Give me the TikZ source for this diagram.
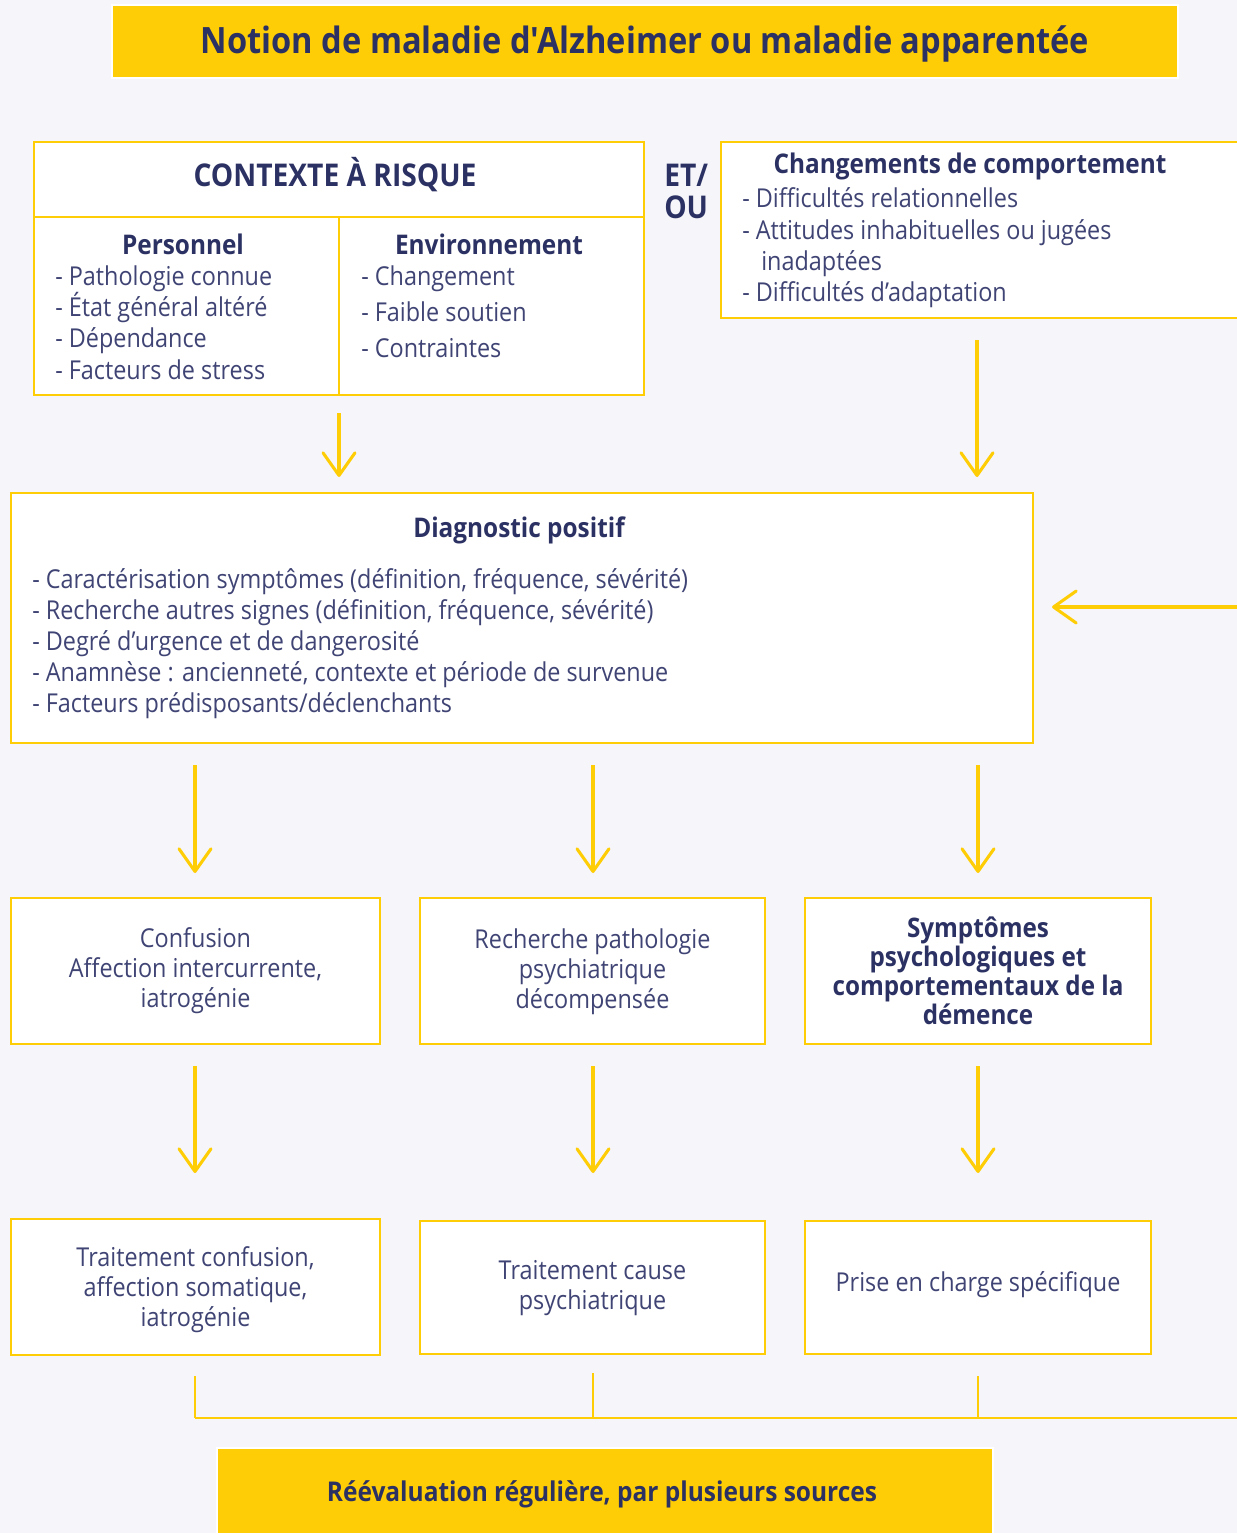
\documentclass[tikz,border=0pt]{standalone}
\usepackage{fontspec}
\setmainfont{Open Sans}[FakeStretch=0.9]
\newfontfamily\plainfont{Open Sans}[FakeStretch=0.9]
\usetikzlibrary{arrows.meta}
\definecolor{bg}{HTML}{F5F5FA}
\definecolor{yel}{HTML}{FFCD05}
\definecolor{navy}{HTML}{2B3163}
\definecolor{txt}{HTML}{3F4474}
\newcommand\pbox[6]{\node[#6, minimum width={(#4-#2)*0.75pt}, minimum height={(#5-#3)*0.75pt}] (#1) at ({(#2+#4)/2},{(#3+#5)/2}) {};}
\begin{document}
\begin{tikzpicture}[x=0.75pt,y=-0.75pt,
  box/.style={draw=yel, line width=1.6pt, fill=white, inner sep=0pt},
  band/.style={draw=white, line width=1.2pt, fill=yel, inner sep=0pt},
  body/.style={text=txt, inner sep=0pt, font=\fontsize{19.5}{23}\selectfont},
  head/.style={text=navy, inner sep=0pt, font=\fontsize{20.3}{23}\selectfont\bfseries},
  big/.style={text=navy, inner sep=0pt, font=\fontsize{23.5}{26}\selectfont\bfseries},
  ctr/.style={text=txt, inner sep=0pt, align=center, font=\fontsize{19.5}{22.4}\selectfont},
  ctrb/.style={text=navy, inner sep=0pt, align=center, font=\fontsize{20.2}{21.8}\selectfont\bfseries},
  arr/.style={draw=yel, line width=2.3pt, -{Straight Barb[length=17pt,width=24pt,round]}},
  lin/.style={draw=yel, line width=1.6pt}]
\clip (0,0) rectangle (1237,1533);
\fill[bg] (0,0) rectangle (1237,1533);

% title
\pbox{title}{112}{5}{1178}{78}{band}
\node[text=navy, font=\plainfont\fontsize{27.2}{30}\selectfont\bfseries, inner sep=0pt] (titletxt) at (645,44) {Notion de maladie d'Alzheimer ou maladie apparentée};

% contexte
\pbox{ctx}{34}{142}{644}{395}{box}
\coordinate (dl) at (34,217); \coordinate (dr) at (644,217);
\coordinate (vt) at (339,217); \coordinate (vb) at (339,395);
\draw[lin] (dl) -- (dr);
\draw[lin] (vt) -- (vb);
\node[big, anchor=base] (ctxt) at (335,187) {CONTEXTE À RISQUE};
\node[head, anchor=base] (pers) at (183,255) {Personnel};
\node[body, anchor=base west] (p1) at (55,286) {- Pathologie connue};
\node[body, anchor=base west] (p2) at (55,317) {- État général altéré};
\node[body, anchor=base west] (p3) at (55,348) {- Dépendance};
\node[body, anchor=base west] (p4) at (55,379) {- Facteurs de stress};
\node[head, anchor=base] (env) at (489,255) {Environnement};
\node[body, anchor=base west] (e1) at (361,286) {- Changement};
\node[body, anchor=base west] (e2) at (361,322) {- Faible soutien};
\node[body, anchor=base west] (e3) at (361,358) {- Contraintes};

% ET/OU
\node[big, anchor=base west] (et) at (664,187) {ET/};
\node[big, anchor=base west] (ou) at (664,219) {OU};

% changements
\pbox{chg}{721}{142}{1250}{318}{box}
\node[head, anchor=base] (chgt) at (970,174) {Changements de comportement};
\node[body, anchor=base west] (c1) at (742,208) {- Difficultés relationnelles};
\node[body, anchor=base west] (c2) at (742,240) {- Attitudes inhabituelles ou jugées};
\node[body, anchor=base west] (c3) at (761,271) {inadaptées};
\node[body, anchor=base west] (c4) at (742,302) {- Difficultés d’adaptation};

% diagnostic
\pbox{diag}{11}{493}{1033}{743}{box}
\node[head, anchor=base] (diagt) at (519,537) {Diagnostic positif};
\node[body, anchor=base west] (d1) at (32,588) {- Caractérisation symptômes (définition, fréquence, sévérité)};
\node[body, anchor=base west] (d2) at (32,619) {- Recherche autres signes (définition, fréquence, sévérité)};
\node[body, anchor=base west] (d3) at (32,650) {- Degré d’urgence et de dangerosité};
\node[body, anchor=base west] (d4) at (32,681) {- Anamnèse : ancienneté, contexte et période de survenue};
\node[body, anchor=base west] (d5) at (32,712) {- Facteurs prédisposants/déclenchants};

% row 2
\pbox{b1}{11}{898}{380}{1044}{box}
\pbox{b2}{420}{898}{765}{1044}{box}
\pbox{b3}{805}{898}{1151}{1044}{box}
\node[ctr] (b1t) at (195.5,971) {Confusion\\Affection intercurrente,\\iatrogénie};
\node[ctr] (b2t) at (592.5,972) {Recherche pathologie\\psychiatrique\\décompensée};
\node[ctrb] (b3t) at (978,971) {Symptômes\\psychologiques et\\comportementaux de la\\démence};

% row 3
\pbox{r1}{11}{1219}{380}{1355}{box}
\pbox{r2}{420}{1221}{765}{1354}{box}
\pbox{r3}{805}{1221}{1151}{1354}{box}
\node[ctr] (r1t) at (195.5,1290) {Traitement confusion,\\affection somatique,\\iatrogénie};
\node[ctr] (r2t) at (592.5,1288) {Traitement cause\\psychiatrique};
\node[ctr] (r3t) at (978,1285) {Prise en charge spécifique};

% bottom band
\pbox{reev}{217}{1448}{993}{1560}{band}
\node[text=navy, font=\fontsize{20.4}{24}\selectfont\bfseries, inner sep=0pt] (reevt) at (602,1494) {Réévaluation régulière, par plusieurs sources};

% arrows
\coordinate (a1s) at (339,413); \coordinate (a1e) at (339,477);
\coordinate (a2s) at (977,340); \coordinate (a2e) at (977,477);
\draw[arr] (a1s) -- (a1e);
\draw[arr] (a2s) -- (a2e);
\coordinate (ls) at (1250,607); \coordinate (le) at (1052,607);
\draw[arr] (ls) -- (le);
\foreach \x/\n in {195/1,593/2,978/3}{
  \coordinate (m\n s) at (\x,765); \coordinate (m\n e) at (\x,873);
  \draw[arr] (m\n s) -- (m\n e);
  \coordinate (n\n s) at (\x,1066); \coordinate (n\n e) at (\x,1173);
  \draw[arr] (n\n s) -- (n\n e);
}
% feedback lines
\coordinate (f1) at (195,1376); \coordinate (f1b) at (195,1418);
\coordinate (f2) at (593,1373); \coordinate (f2b) at (593,1418);
\coordinate (f3) at (978,1376); \coordinate (f3b) at (978,1418);
\coordinate (fr) at (1250,1418);
\draw[lin, line width=1.3pt] (f1) -- (f1b);
\draw[lin, line width=1.3pt] (f2) -- (f2b);
\draw[lin, line width=1.3pt] (f3) -- (f3b);
\draw[lin, line width=2.2pt] (f1b) -- (fr);
\end{tikzpicture}
\end{document}
